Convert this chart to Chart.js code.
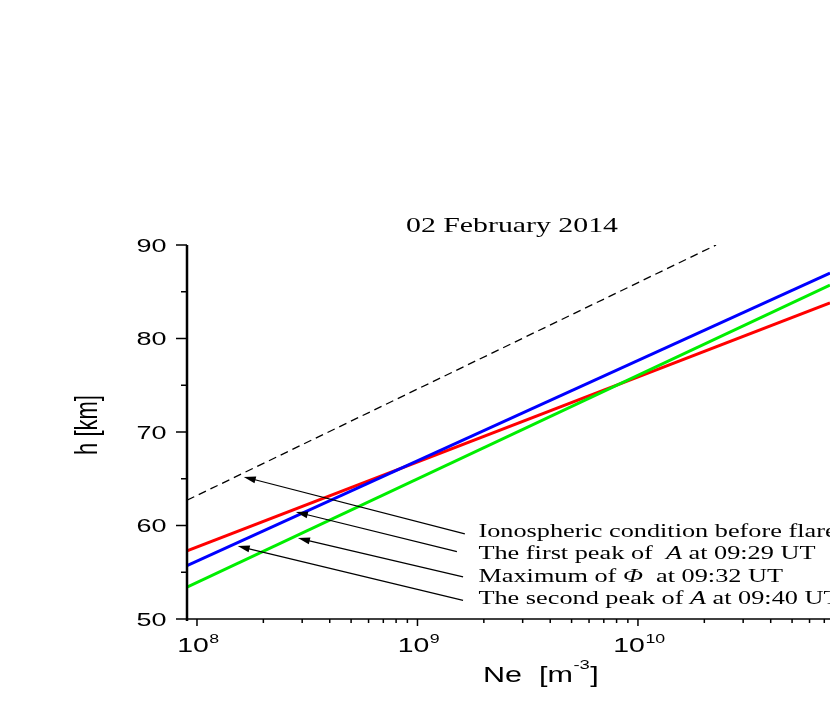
<!DOCTYPE html>
<html>
<head>
<meta charset="utf-8">
<script src="https://cdn.jsdelivr.net/npm/chart.js@4"></script>
<style>
  html, body { margin: 0; padding: 0; background: #fff; overflow: hidden; }
  #wrap { width: 830px; height: 706px; }
</style>
</head>
<body>
<div id="wrap"><canvas id="ne" width="830" height="706"></canvas></div>
<script>
/* ─── AXES ────────────────────────────────────────────────── */
const neMin = 9.01e7;
const neMax = 7.43e10;
const hMin  = 50;
const hMax  = 90;

const hTicks      = [50, 60, 70, 80, 90];
const hMinorTicks = [55, 65, 75, 85];
const neTicks     = [1e8, 1e9, 1e10];
const neTickExp   = ['8', '9', '10'];
const neMinorTicks = [
  2e8, 3e8, 4e8, 5e8, 6e8, 7e8, 8e8, 9e8,
  2e9, 3e9, 4e9, 5e9, 6e9, 7e9, 8e9, 9e9,
  2e10, 3e10, 4e10, 5e10, 6e10, 7e10,
];

/* ─── SERIES (Ne [m^-3] vs h [km]) ────────────────────────── */
const beforeNe     = [9.01e7, 2.26e10];
const beforeH      = [62.7, 90.0];
const profileNe    = [9.01e7, 7.43e10];
const firstPeakH   = [57.3, 83.8];   // red
const phiMaxH      = [53.4, 85.7];   // green
const secondPeakH  = [55.7, 87.0];   // blue

/* ─── ANNOTATIONS ─────────────────────────────────────────── */
const arrowTipNe  = [1.63e8, 2.81e8, 2.87e8, 1.53e8];
const arrowTipH   = [65.2, 61.45, 58.65, 57.8];
const arrowTailNe = [1.64e9, 1.51e9, 1.61e9, 1.61e9];
const arrowTailH  = [59.1, 57.2, 54.5, 52.0];

const noteNe = 1.89e9;
const noteH  = [58.77, 56.42, 53.96, 51.6];
const noteText = [
  [['Ionospheric condition before flare', false]],
  [['The first peak of  ', false], ['A', true], [' at 09:29 UT', false]],
  [['Maximum of ', false], ['\u03A6', true], ['  at 09:32 UT', false]],
  [['The second peak of ', false], ['A', true], [' at 09:40 UT', false]],
];

const titleText = '02 February 2014';

/* ─── TEXT HELPERS ────────────────────────────────────────── */
const STRETCH = 1.42;
const SANS  = '"Liberation Sans", Arial, sans-serif';
const SERIF = '"Liberation Serif", "Times New Roman", serif';

function textWidth(c, str, font) {
  c.save();
  c.font = font;
  const w = c.measureText(str).width * STRETCH;
  c.restore();
  return w;
}

function wideText(c, str, x, y, font) {
  c.save();
  c.font = font;
  c.textAlign = 'left';
  c.textBaseline = 'alphabetic';
  const w = c.measureText(str).width * STRETCH;
  c.translate(x, y);
  c.scale(STRETCH, 1);
  c.fillText(str, 0, 0);
  c.restore();
  return w;
}

function arrow(c, x0, y0, x1, y1) {
  const a = Math.atan2(y1 - y0, x1 - x0);
  const len = 12, half = 3.5;
  c.beginPath();
  c.moveTo(x0, y0);
  c.lineTo(x1 - Math.cos(a) * len * 0.8, y1 - Math.sin(a) * len * 0.8);
  c.stroke();
  c.beginPath();
  c.moveTo(x1, y1);
  c.lineTo(x1 - Math.cos(a) * len + Math.sin(a) * half, y1 - Math.sin(a) * len - Math.cos(a) * half);
  c.lineTo(x1 - Math.cos(a) * len - Math.sin(a) * half, y1 - Math.sin(a) * len + Math.cos(a) * half);
  c.closePath();
  c.fill();
}

/* ─── FRAME PLUGIN ────────────────────────────────────────── */
const framePlugin = {
  id: 'frame',
  afterDraw(chart) {
    const c = chart.ctx;
    const xs = chart.scales.x, ys = chart.scales.y;
    const { left, top, bottom } = chart.chartArea;
    c.save();
    c.fillStyle = '#000';
    c.strokeStyle = '#000';

    // axis lines
    c.lineWidth = 2.5;
    c.beginPath(); c.moveTo(left, top); c.lineTo(left, bottom + 2); c.stroke();
    c.lineWidth = 1.6;
    c.beginPath(); c.moveTo(left - 1, bottom); c.lineTo(chart.width, bottom); c.stroke();

    // y ticks
    c.lineWidth = 1.5;
    hTicks.forEach(v => {
      const y = ys.getPixelForValue(v);
      c.beginPath(); c.moveTo(left - 11, y); c.lineTo(left, y); c.stroke();
      const f = '19px ' + SANS;
      const w = textWidth(c, String(v), f);
      wideText(c, String(v), 166.5 - w, y + 6.8, f);
    });
    hMinorTicks.forEach(v => {
      const y = ys.getPixelForValue(v);
      c.beginPath(); c.moveTo(left - 6, y); c.lineTo(left, y); c.stroke();
    });

    // x ticks
    neTicks.forEach((v, i) => {
      const x = xs.getPixelForValue(v);
      c.beginPath(); c.moveTo(x, bottom); c.lineTo(x, bottom + 7); c.stroke();
      const fMain = '20px ' + SANS, fSup = '12.5px ' + SANS;
      const w = textWidth(c, '10', fMain) + textWidth(c, neTickExp[i], fSup);
      const x0 = x - w / 2 + 1;
      const w1 = wideText(c, '10', x0, 652, fMain);
      wideText(c, neTickExp[i], x0 + w1 + 0.5, 643, fSup);
    });
    neMinorTicks.forEach(v => {
      const x = xs.getPixelForValue(v);
      if (x > chart.width) return;
      c.beginPath(); c.moveTo(x, bottom); c.lineTo(x, bottom + 4); c.stroke();
    });

    // axis titles
    const fTitle = '21.5px ' + SANS;
    let x0 = 483;
    x0 += wideText(c, 'Ne  [m', x0, 682, fTitle);
    x0 += wideText(c, '-3', x0 + 0.5, 668.5, '13px ' + SANS) + 1;
    wideText(c, ']', x0, 682, fTitle);

    c.save();
    c.translate(97, 425);
    c.scale(STRETCH, 1);
    c.rotate(-Math.PI / 2);
    c.font = '22px ' + SANS;
    c.textAlign = 'center';
    c.fillText('h [km]', 0, 0);
    c.restore();

    // chart title
    const fHead = '21px ' + SERIF;
    const tw = textWidth(c, titleText, fHead);
    wideText(c, titleText, 512 - tw / 2, 232, fHead);

    // arrows
    c.lineWidth = 1.2;
    arrowTipNe.forEach((v, i) => {
      arrow(c,
        xs.getPixelForValue(arrowTailNe[i]), ys.getPixelForValue(arrowTailH[i]),
        xs.getPixelForValue(v), ys.getPixelForValue(arrowTipH[i]));
    });

    // notes
    const nx = xs.getPixelForValue(noteNe);
    noteText.forEach((parts, i) => {
      const y = ys.getPixelForValue(noteH[i]);
      let x = nx;
      parts.forEach(([s, it]) => {
        x += wideText(c, s, x, y, (it ? 'italic ' : '') + '18.5px ' + SERIF);
      });
    });

    c.restore();
  },
};

/* ─── CHART ───────────────────────────────────────────────── */
const pts = (xs, ys) => xs.map((x, i) => ({ x, y: ys[i] }));

new Chart(document.getElementById('ne').getContext('2d'), {
  type: 'line',
  data: {
    datasets: [
      { data: pts(beforeNe, beforeH), borderColor: '#000', borderWidth: 1.3, borderDash: [8, 5] },
      { data: pts(profileNe, secondPeakH), borderColor: '#0000ff', borderWidth: 3 },
      { data: pts(profileNe, phiMaxH), borderColor: '#00ee00', borderWidth: 3 },
      { data: pts(profileNe, firstPeakH), borderColor: '#ff0000', borderWidth: 3 },
    ],
  },
  options: {
    responsive: false,
    animation: false,
    elements: { point: { radius: 0 }, line: { tension: 0 } },
    layout: { padding: { top: 245, left: 0, right: 0, bottom: 0 } },
    plugins: { legend: { display: false }, title: { display: false }, tooltip: { enabled: false } },
    scales: {
      x: {
        type: 'logarithmic', min: neMin, max: neMax,
        grid: { display: false }, border: { display: false }, ticks: { display: false },
        afterFit: s => { s.height = 87; },
      },
      y: {
        type: 'linear', min: hMin, max: hMax,
        grid: { display: false }, border: { display: false }, ticks: { display: false },
        afterFit: s => { s.width = 187; },
      },
    },
  },
  plugins: [framePlugin],
});
</script>
</body>
</html>
